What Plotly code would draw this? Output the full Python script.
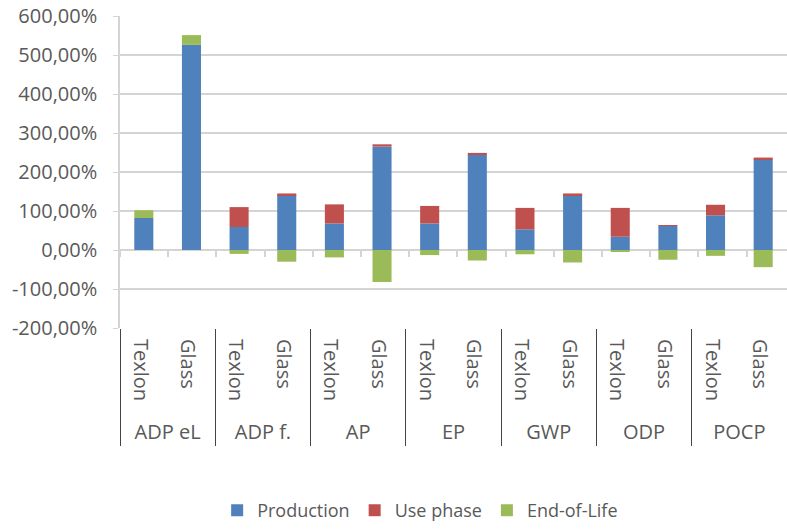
import plotly.graph_objects as go

groups = ["ADP eL", "ADP f.", "AP", "EP", "GWP", "ODP", "POCP"]
materials = ["Texlon", "Glass"]
production = [82, 526, 59, 141, 68, 265, 68, 244, 53, 141, 34, 62, 89, 232]
use_phase = [0, 0, 51, 4, 49, 6, 45, 5, 55, 4, 74, 2, 27, 5]
end_of_life = [20, 25, -10, -30, -19, -82, -13, -27, -11, -32, -3, -25, -15, -44]
y_ticks = [-200, -100, 0, 100, 200, 300, 400, 500, 600]
y_ticktext = ["-200,00%", "-100,00%", "0,00%", "100,00%", "200,00%", "300,00%", "400,00%", "500,00%", "600,00%"]

outer = [g for g in groups for _ in materials]
inner = [m for _ in groups for m in materials]
x = [outer, inner]

FONT = "Open Sans"
TXT = "#595959"
GRID = "#D4D4D4"
X_RANGE = [-0.5, 13.34]

fig = go.Figure()
fig.add_bar(x=x, y=production, name="Production", marker_color="#4F81BD", marker_line_width=0)
fig.add_bar(x=x, y=use_phase, name="Use phase", marker_color="#C0504D", marker_line_width=0)
fig.add_bar(x=x, y=end_of_life, name="End-of-Life", marker_color="#9BBB59", marker_line_width=0)
# helper trace so the zero-line tick axis exists
fig.add_scatter(x=x, y=[None] * len(inner), xaxis="x2", mode="lines", showlegend=False, hoverinfo="skip")

fig.update_layout(
    width=787, height=529, autosize=False,
    margin=dict(l=120, r=0, t=16, b=197),
    barmode="relative",
    bargap=0.6,
    plot_bgcolor="white", paper_bgcolor="white",
    font=dict(family=FONT, size=20, color=TXT),
    legend=dict(orientation="h", x=0.45, xanchor="center", y=-0.585, yanchor="middle",
                font=dict(size=18, color=TXT), traceorder="normal"),
    xaxis2=dict(type="multicategory", overlaying="x", anchor="free", position=0.249,
                range=X_RANGE, autorange=False,
                ticks="outside", tickson="boundaries", ticklen=6, tickcolor=GRID, tickwidth=1.5,
                showticklabels=False, showdividers=False, showgrid=False, showline=False,
                automargin=False),
)
fig.update_yaxes(
    range=[-200, 600], tickvals=y_ticks, ticktext=y_ticktext, automargin=False,
    showgrid=True, gridcolor=GRID, gridwidth=1.5, zeroline=False,
    showline=True, linecolor=GRID, linewidth=1.5, ticks="outside", ticklen=5, tickcolor=GRID,
    tickfont=dict(size=20, color=TXT), ticklabelstandoff=12,
)
fig.update_xaxes(
    selector=dict(anchor="y"),
    type="multicategory", range=X_RANGE, autorange=False, automargin=False,
    showline=False, ticks="outside", tickson="boundaries", ticklen=88, tickcolor=GRID, tickwidth=1.5,
    tickangle=-90, showdividers=True, dividercolor=GRID, dividerwidth=1.5,
    tickfont=dict(size=20, color=TXT), showgrid=False, ticklabeloverflow="allow",
)
fig.write_html(
    "out.html",
    config={"responsive": False, "displayModeBar": False},
    post_script="document.body.style.margin='0';document.body.style.overflow='hidden';"
                "document.documentElement.style.overflow='hidden';",
)
